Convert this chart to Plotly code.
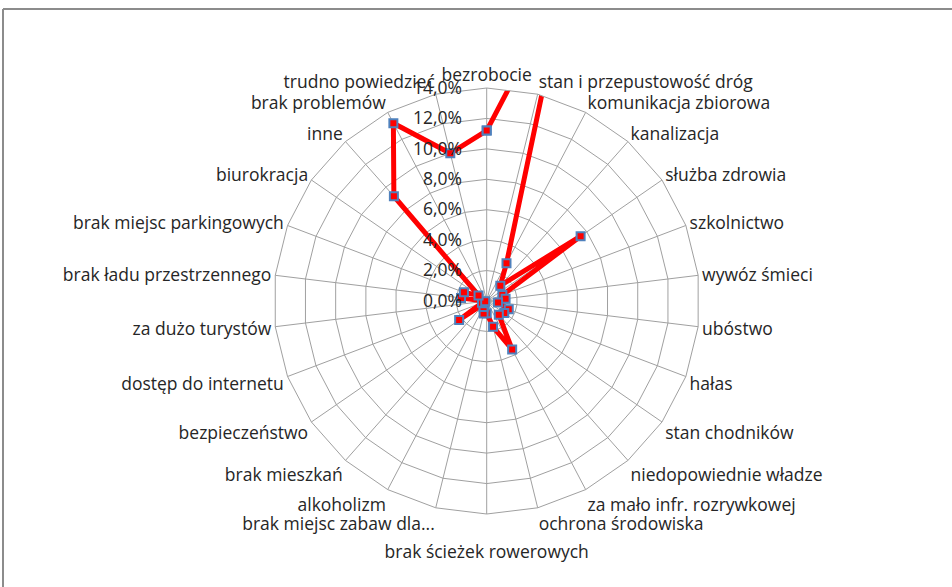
import plotly.graph_objects as go

categories = [
    "bezrobocie", "stan i przepustowość dróg", "komunikacja zbiorowa", "kanalizacja",
    "służba zdrowia", "szkolnictwo", "wywóz śmieci", "ubóstwo", "hałas",
    "stan chodników", "niedopowiednie władze", "za mało infr. rozrywkowej",
    "ochrona środowiska", "brak ścieżek rowerowych", "brak miejsc zabaw dla...",
    "alkoholizm", "brak mieszkań", "bezpieczeństwo", "dostęp do internetu",
    "za dużo turystów", "brak ładu przestrzennego", "brak miejsc parkingowych",
    "biurokracja", "inne", "brak problemów", "trudno powiedzieć",
]
values = [
    11.2, 21.8, 2.8, 1.35, 7.5, 1.1, 1.25, 0.75, 1.55, 1.4, 1.2, 3.6, 1.75,
    0.8, 0.85, 0.45, 0.2, 2.2, 0.33, 0.1, 1.7, 1.6, 0.65, 9.2, 13.2, 10.0,
]
radial_ticks = [0, 2, 4, 6, 8, 10, 12, 14]
radial_ticktext = ["0,0%", "2,0%", "4,0%", "6,0%", "8,0%", "10,0%", "12,0%", "14,0%"]

# bottom label pushed one line down so it does not collide with its neighbour
angular_ticktext = ["<br>" + c if c == "brak ścieżek rowerowych" else c
                    for c in categories]

FONT = "Open Sans"
FS = 17.5
GRID = "#a0a0a0"
TXT = "#262626"
FRAME = "#8c8c8c"

fig = go.Figure()
fig.add_trace(go.Scatterpolar(
    r=values + [values[0]],
    theta=categories + [categories[0]],
    mode="lines+markers",
    line=dict(color="#ff0000", width=5),
    marker=dict(symbol="square", size=8, color="#ff0000",
                line=dict(color="#4F81BD", width=2)),
    showlegend=False,
))

cx, cy, R = 486.7, 301.0, 213.0
W, H = 952, 587
fig.update_layout(
    width=W, height=H,
    margin=dict(l=0, r=0, t=0, b=0),
    paper_bgcolor="white",
    font=dict(family=FONT, size=FS, color=TXT),
    polar=dict(
        domain=dict(x=[(cx - R) / W, (cx + R) / W],
                    y=[(H - cy - R) / H, (H - cy + R) / H]),
        bgcolor="white",
        gridshape="linear",
        angularaxis=dict(
            type="category",
            categoryorder="array",
            categoryarray=categories,
            tickmode="array",
            tickvals=categories,
            ticktext=angular_ticktext,
            direction="clockwise",
            rotation=90,
            showgrid=True,
            gridcolor=GRID,
            gridwidth=1,
            showline=True,
            linecolor=GRID,
            linewidth=1,
            ticks="",
            tickfont=dict(family=FONT, size=FS, color=TXT),
        ),
        radialaxis=dict(
            range=[0, 14],
            tickmode="array",
            tickvals=radial_ticks,
            ticktext=radial_ticktext,
            angle=90,
            tickangle=90,
            side="counterclockwise",
            showline=False,
            showgrid=True,
            gridcolor=GRID,
            gridwidth=1,
            ticks="outside",
            ticklen=18,
            tickcolor="rgba(0,0,0,0)",
            tickfont=dict(family=FONT, size=FS, color=TXT),
        ),
    ),
    shapes=[
        dict(type="line", xref="paper", yref="paper",
             x0=3 / W, x1=1.0, y0=(H - 9) / H, y1=(H - 9) / H,
             line=dict(color=FRAME, width=2), layer="below"),
        dict(type="line", xref="paper", yref="paper",
             x0=3 / W, x1=3 / W, y0=0.0, y1=(H - 9) / H,
             line=dict(color=FRAME, width=2), layer="below"),
    ],
)

page_css = ("html,body{margin:0;padding:0;overflow:hidden;}"
            "::-webkit-scrollbar{display:none;width:0;height:0;}")
fig.write_html(
    "out.html",
    config={"displayModeBar": False},
    post_script=("var s=document.createElement('style');"
                 "s.textContent='" + page_css + "';"
                 "document.head.appendChild(s);"),
)
